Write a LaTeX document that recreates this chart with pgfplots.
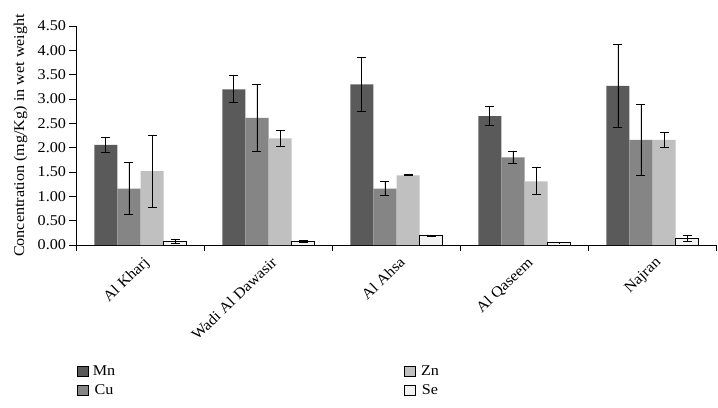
\documentclass[border=0pt]{standalone}
\usepackage{fontspec}
\setmainfont{Liberation Serif}[FakeStretch=1.08]
\usepackage{pgfplots}
\pgfplotsset{compat=1.18}
\definecolor{mn}{HTML}{5A5A5A}
\definecolor{cu}{HTML}{858585}
\definecolor{zn}{HTML}{C0C0C0}
\definecolor{se}{HTML}{F2F2F2}
\begin{document}
\begin{tikzpicture}[x=1bp,y=1bp]
\useasboundingbox (-76.5,-162) rectangle (641.5,245);
\begin{axis}[
    at={(0,0)}, anchor=south west,
    scale only axis,
    width=640bp, height=219bp,
    ybar=0pt,
    bar width=0.18,
    xmin=-0.5, xmax=4.5,
    ymin=0, ymax=4.5,
    ytick={0,0.5,...,4.5},
    axis lines*=left,
    tick align=outside,
    major tick length=7bp,
    xtick={0,1,2,3,4},
    xticklabels={Al Kharj, Wadi Al Dawasir, Al Ahsa, Al Qaseem, Najran},
    x tick style={draw=none},
    minor xtick={-0.5,0.5,1.5,2.5,3.5,4.5},
    minor x tick style={draw=black, line width=0.6pt},
    minor tick length=6bp,
    x tick label style={rotate=44, anchor=north east, inner sep=1pt, xshift=0bp, yshift=-3bp},
    yticklabel style={/pgf/number format/.cd, fixed, fixed zerofill, precision=2, assume math mode=true},
    ylabel={Concentration (mg/Kg) in wet weight},
    every axis y label/.style={at={(axis description cs:0,0.5)}, xshift=-56bp, rotate=90, anchor=center},
    tick label style={font=\fontsize{15}{17}\selectfont},
    label style={font=\fontsize{15}{17}\selectfont},
    axis line style={black, line width=0.6pt},
    y tick style={black, line width=0.6pt},
    error bars/y dir=both,
    error bars/y explicit,
    error bars/error bar style={black, line width=0.9pt},
    error bars/error mark options={rotate=90, mark size=4.5bp, line width=0.9pt},
    legend style={draw=none, fill=none, at={(0,-0.54)}, anchor=north west,
        font=\fontsize{15}{17}\selectfont, row sep=4bp, inner sep=0pt,
        nodes={inner sep=2bp},
        /tikz/every even column/.append style={column sep=287bp}},
    legend columns=2,
    transpose legend,
    legend image code/.code={\draw[#1] (0bp,-5bp) rectangle (11bp,5bp); \path (14bp,0bp);},
]
\addplot[fill=mn, draw=none] coordinates {
  (0,2.06) +- (0,0.16)
  (1,3.20) +- (0,0.28)
  (2,3.30) +- (0,0.55)
  (3,2.65) +- (0,0.19)
  (4,3.27) +- (0,0.86)
};
\addplot[fill=cu, draw=none] coordinates {
  (0,1.16) +- (0,0.54)
  (1,2.61) +- (0,0.68)
  (2,1.16) +- (0,0.15)
  (3,1.80) +- (0,0.12)
  (4,2.16) +- (0,0.73)
};
\addplot[fill=zn, draw=none] coordinates {
  (0,1.52) +- (0,0.74)
  (1,2.19) +- (0,0.16)
  (2,1.43) +- (0,0.01)
  (3,1.31) +- (0,0.28)
  (4,2.16) +- (0,0.15)
};
\addplot[fill=se, draw=black, line width=0.7pt] coordinates {
  (0,0.07) +- (0,0.04)
  (1,0.08) +- (0,0.02)
  (2,0.19) +- (0,0.005)
  (3,0.05) +- (0,0.005)
  (4,0.14) +- (0,0.065)
};
\legend{Mn, Cu, Zn, Se}
\end{axis}
\end{tikzpicture}
\end{document}
